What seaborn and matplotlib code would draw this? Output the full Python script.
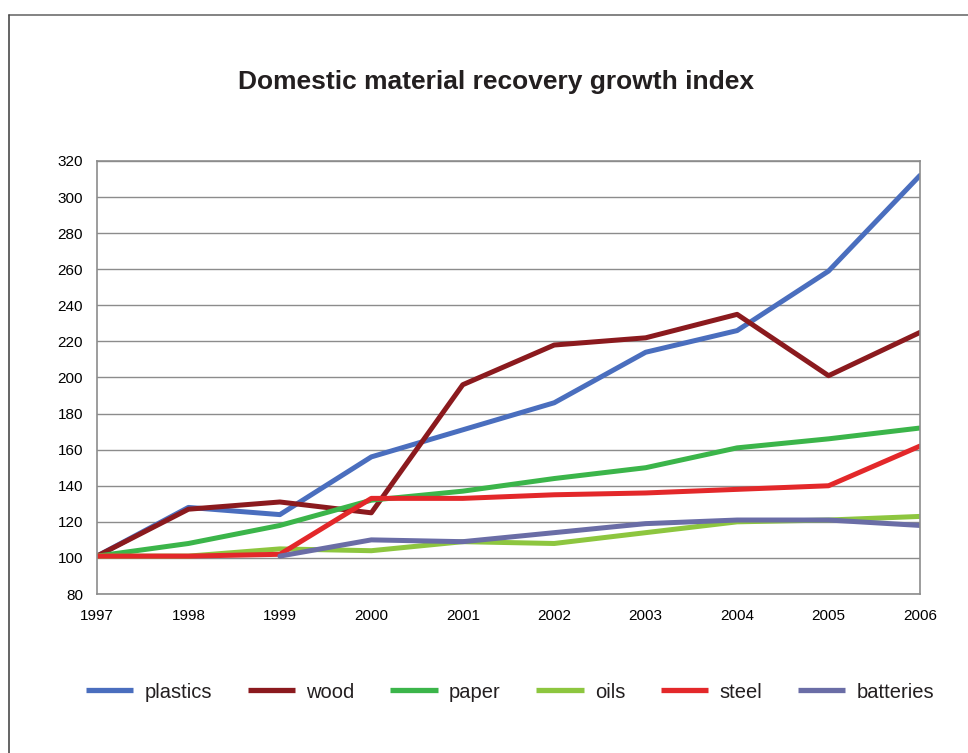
import numpy as np
import pandas as pd
import matplotlib
matplotlib.use("Agg")
import matplotlib.pyplot as plt
import seaborn as sns
from matplotlib.lines import Line2D

years = [1997, 1998, 1999, 2000, 2001, 2002, 2003, 2004, 2005, 2006]
plastics = [101, 128, 124, 156, 171, 186, 214, 226, 259, 312]
wood = [101, 127, 131, 125, 196, 218, 222, 235, 201, 225]
paper = [101, 108, 118, 132, 137, 144, 150, 161, 166, 172]
oils = [101, 101, 105, 104, 109, 108, 114, 120, 121, 123]
steel = [101, 101, 102, 133, 133, 135, 136, 138, 140, 162]
batteries = [np.nan, np.nan, 101, 110, 109, 114, 119, 121, 121, 118]

series_names = ["plastics", "wood", "paper", "oils", "steel", "batteries"]
series_vals = [plastics, wood, paper, oils, steel, batteries]
colors = ["#4A6EBE", "#8B1A1E", "#3BB54A", "#8DC63F", "#E3282A", "#6A6DA6"]

rows = []
for name, vals in zip(series_names, series_vals):
    for y, v in zip(years, vals):
        rows.append({"year": y, "value": v, "material": name})
df = pd.DataFrame(rows).dropna()

sns.set_theme(style="white")
plt.rcParams["font.family"] = ["Liberation Sans", "DejaVu Sans"]

fig = plt.figure(figsize=(9.68, 7.53), dpi=100)
ax = fig.add_axes([97/968, 1-594/753, (920-97)/968, (594-161)/753])

sns.lineplot(data=df, x="year", y="value", hue="material", hue_order=series_names,
             palette=colors, linewidth=3.6, ax=ax, legend=False, sort=True)

ax.set_xlim(1997, 2006)
ax.set_ylim(80, 320)
ax.set_xticks(years)
ax.set_xticklabels([str(y) for y in years])
ax.set_yticks(np.arange(80, 321, 20))
ax.set_xlabel("")
ax.set_ylabel("")
ax.yaxis.grid(True, color="#8c8c8c", linewidth=1.0)
ax.set_axisbelow(True)
for s in ax.spines.values():
    s.set_color("#8c8c8c")
    s.set_linewidth(1.2)
ax.tick_params(axis="both", which="both", direction="out", length=5, width=1,
               color="#8c8c8c", labelsize=11, labelcolor="black")
ax.tick_params(axis="x", pad=6)
ax.tick_params(axis="y", pad=5)

fig.text(496/968, 1-82/753, "Domestic material recovery growth index",
         ha="center", va="center", fontsize=19, fontweight="bold", color="#231f20")

handles = [Line2D([], [], color=c, linewidth=3.8, solid_capstyle="butt") for c in colors]
fig.legend(handles, series_names, loc="center", bbox_to_anchor=(510/968, 1-692/753),
           ncol=6, frameon=False, fontsize=14.5, handlelength=2.35,
           columnspacing=1.78, handletextpad=0.55, labelcolor="#231f20")

# outer chart border (top and left edges visible)
fig.add_artist(Line2D([9/968, 1.0], [1-15/753, 1-15/753], transform=fig.transFigure,
                      color="#6e6e6e", linewidth=1.2))
fig.add_artist(Line2D([9/968, 9/968], [0.0, 1-15/753], transform=fig.transFigure,
                      color="#4a4a4a", linewidth=1.2))

fig.savefig("out.png", dpi=100)
